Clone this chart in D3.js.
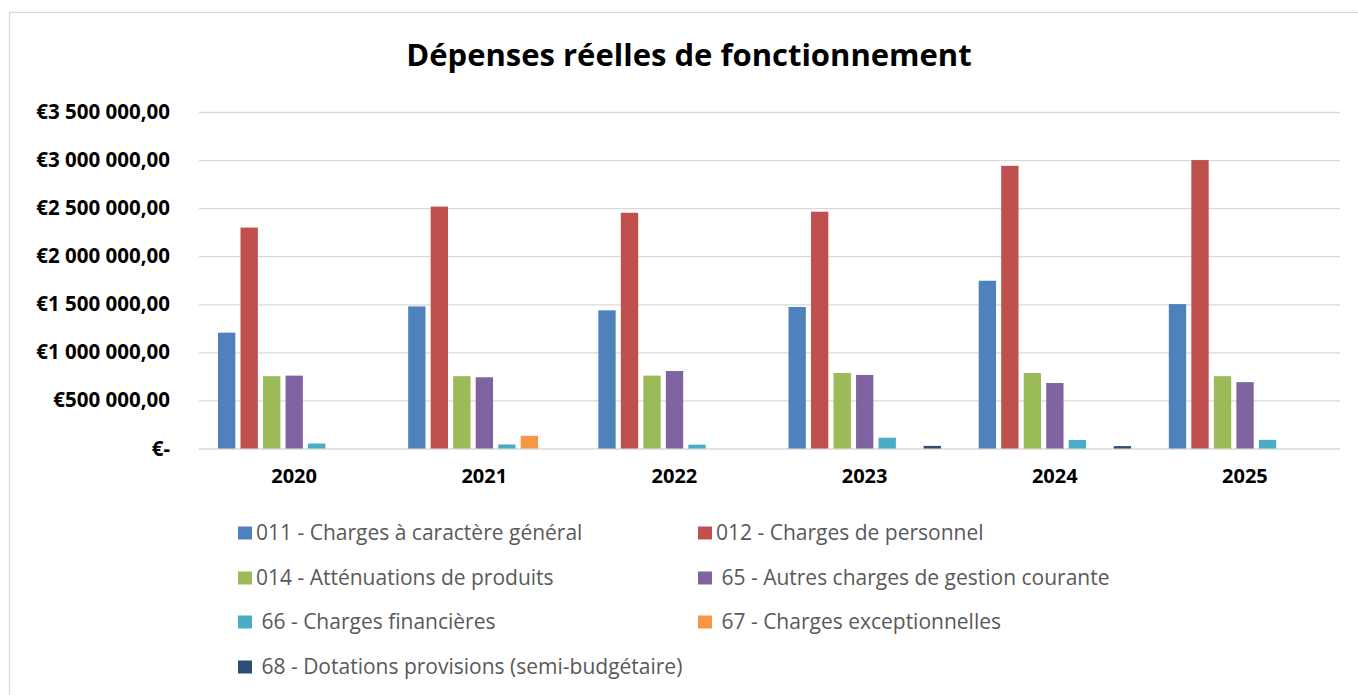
<!DOCTYPE html>
<html>
<head>
  <meta charset="utf-8" />
  <title>Dépenses réelles de fonctionnement</title>
  <script src="https://cdn.jsdelivr.net/npm/d3@7/dist/d3.min.js"></script>
  <style>
    body { margin: 0; background: #fff; }
    svg text { font-family: "Open Sans", sans-serif; }
  </style>
</head>
<body>
  <svg id="chart" width="1358" height="695"></svg>

  <script>
    // data
    const years = ["2020", "2021", "2022", "2023", "2024", "2025"];
    const seriesNames = [
      "011 - Charges à caractère général",
      "012 - Charges de personnel",
      "014 - Atténuations de produits",
      "65 - Autres charges de gestion courante",
      "66 - Charges financières",
      "67 - Charges exceptionnelles",
      "68 - Dotations provisions (semi-budgétaire)"
    ];
    const legendLabels = [
      "011 - Charges à caractère général",
      "012 - Charges de personnel",
      "014 - Atténuations de produits",
      " 65 - Autres charges de gestion courante",
      " 66 - Charges financières",
      " 67 - Charges exceptionnelles",
      " 68 - Dotations provisions (semi-budgétaire)"
    ];
    const colors = ["#4F81BD", "#C0504D", "#9BBB59", "#8064A2", "#4BACC6", "#F79646", "#2C4D75"];

    const charges011 = [1205000, 1478000, 1437000, 1472000, 1745000, 1502000];
    const charges012 = [2298000, 2516000, 2452000, 2463000, 2940000, 3000000];
    const charges014 = [752000, 752000, 758000, 786000, 785000, 752000];
    const charges65  = [758000, 741000, 806000, 765000, 681000, 690000];
    const charges66  = [52000, 42000, 40000, 112000, 88000, 90000];
    const charges67  = [0, 132000, 0, 0, 0, 0];
    const charges68  = [0, 0, 0, 27000, 25000, 0];
    const seriesValues = [charges011, charges012, charges014, charges65, charges66, charges67, charges68];

    const yTicks = [0, 500000, 1000000, 1500000, 2000000, 2500000, 3000000, 3500000];

    const svg = d3.select("#chart");

    // chart area border
    svg.append("rect")
      .attr("x", 9.5).attr("y", 12.5)
      .attr("width", 1420).attr("height", 800)
      .attr("fill", "#fff")
      .attr("stroke", "#d9d9d9")
      .attr("stroke-width", 1.2);

    svg.append("text")
      .attr("x", 689).attr("y", 66)
      .attr("text-anchor", "middle")
      .attr("font-size", 31)
      .attr("font-weight", "bold")
      .attr("fill", "#000")
      .text("Dépenses réelles de fonctionnement");

    const plotLeft = 199, plotRight = 1340, plotTop = 112, plotBottom = 448.5;

    const x = d3.scaleBand().domain(years).range([plotLeft, plotRight]);
    const xs = d3.scaleBand().domain(seriesNames)
      .range([19, 171.4]).paddingInner(0.23).paddingOuter(0);
    const y = d3.scaleLinear().domain([0, 3500000]).range([plotBottom, plotTop]);

    const fmt = (v) => {
      if (v === 0) return "€-";
      return "€" + d3.format(",")(v).replace(/,/g, " ") + ",00";
    };

    // grid lines
    const grid = svg.append("g")
      .attr("transform", "translate(" + plotLeft + ",0)")
      .call(d3.axisLeft(y).tickValues(yTicks).tickSize(-(plotRight - plotLeft)).tickFormat(""));
    grid.select(".domain").remove();
    grid.selectAll("line").attr("stroke", "#d9d9d9").attr("stroke-width", 1.3);

    // y labels
    const yAxis = svg.append("g")
      .attr("transform", "translate(170,0)")
      .call(d3.axisLeft(y).tickValues(yTicks).tickSize(0).tickPadding(0).tickFormat(fmt));
    yAxis.select(".domain").remove();
    yAxis.selectAll("text")
      .attr("font-size", 20.5)
      .attr("font-weight", "bold")
      .attr("fill", "#000")
      .style("font-family", "'Open Sans', sans-serif");

    // bars
    const groups = svg.append("g").selectAll("g")
      .data(years)
      .enter()
      .append("g")
      .attr("transform", (d) => "translate(" + x(d) + ",0)");

    groups.selectAll("rect")
      .data((yr, i) => seriesNames.map((s, k) => ({ s: s, k: k, v: seriesValues[k][i] })).filter((d) => d.v > 0))
      .enter()
      .append("rect")
      .attr("x", (d) => xs(d.s))
      .attr("y", (d) => y(d.v))
      .attr("width", xs.bandwidth())
      .attr("height", (d) => plotBottom - y(d.v))
      .attr("fill", (d) => colors[d.k]);

    // x labels
    const xAxis = svg.append("g")
      .attr("transform", "translate(0," + plotBottom + ")")
      .call(d3.axisBottom(x).tickSize(0).tickPadding(20));
    xAxis.select(".domain").remove();
    xAxis.selectAll("text")
      .attr("font-size", 20)
      .attr("font-weight", "bold")
      .attr("fill", "#000")
      .style("font-family", "'Open Sans', sans-serif");

    // legend
    const legendX = [238, 698];
    const legendY = [533, 578, 622, 667];
    const legend = svg.append("g").selectAll("g")
      .data(legendLabels)
      .enter()
      .append("g")
      .attr("transform", (d, i) => "translate(" + legendX[i % 2] + "," + legendY[Math.floor(i / 2)] + ")");
    legend.append("rect")
      .attr("x", 0).attr("y", -6.5)
      .attr("width", 14).attr("height", 13)
      .attr("fill", (d, i) => colors[i]);
    legend.append("text")
      .attr("x", 18).attr("y", 6.5)
      .attr("font-size", 21)
      .attr("fill", "#595959")
      .style("white-space", "pre")
      .text((d) => d);
  </script>
</body>
</html>
